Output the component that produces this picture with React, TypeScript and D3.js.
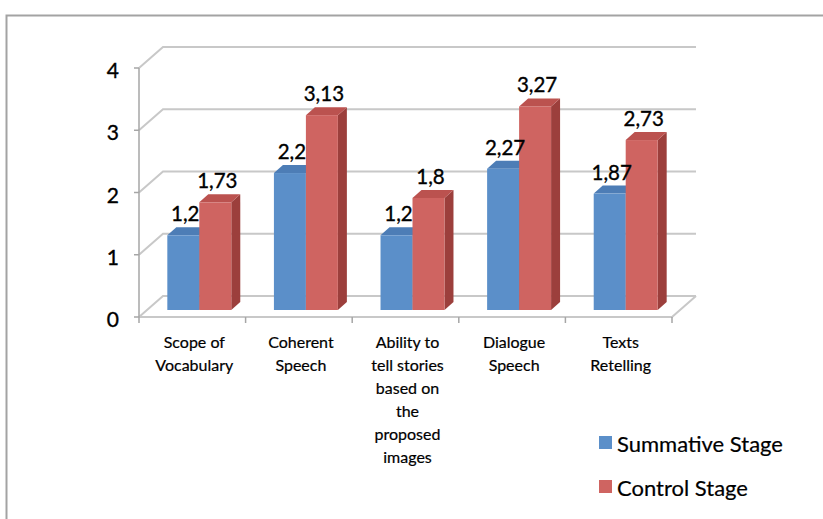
import React from 'react';
import * as d3 from 'd3';

const categories = [
  ['Scope of', 'Vocabulary'],
  ['Coherent', 'Speech'],
  ['Ability to', 'tell stories', 'based on', 'the', 'proposed', 'images'],
  ['Dialogue', 'Speech'],
  ['Texts', 'Retelling'],
];
const summative = [1.2, 2.2, 1.2, 2.27, 1.87];
const control = [1.73, 3.13, 1.8, 3.27, 2.73];
const yTicks = [0, 1, 2, 3, 4];
const seriesNames = ['Summative Stage', 'Control Stage'];

const W = 823;
const H = 519;
const FONT = 'Lato, "Open Sans", sans-serif';

// front plane of the 3d box
const left = 139, right = 672, bottom = 317, top = 68;
const depth = { dx: 24, dy: -21 };
const barShift = { dx: 7, dy: -7 };
const barDepth = { dx: 9, dy: -8 };

const colors = {
  blue: { front: '#5b8fc9', top: '#4d7db6', side: '#3f6a9c' },
  red: { front: '#cf6461', top: '#bb524f', side: '#9c3f3c' },
  grid: '#c8c8c8',
  axis: '#a6a6a6',
};

const fmt = (v: number) => String(v).replace('.', ',');

function Bar3D({ x, w, yTop, yBot, c }: { x: number; w: number; yTop: number; yBot: number; c: any }) {
  const { dx, dy } = barDepth;
  const topPts = [[x, yTop], [x + w, yTop], [x + w + dx, yTop + dy], [x + dx, yTop + dy]];
  const sidePts = [[x + w, yTop], [x + w + dx, yTop + dy], [x + w + dx, yBot + dy], [x + w, yBot]];
  return (
    <g>
      <polygon points={sidePts.map(p => p.join(',')).join(' ')} fill={c.side} />
      <polygon points={topPts.map(p => p.join(',')).join(' ')} fill={c.top} />
      <rect x={x} y={yTop} width={w} height={yBot - yTop} fill={c.front} />
    </g>
  );
}

export default function App() {
  const x = d3.scaleBand<number>().domain(categories.map((_, i) => i)).range([left, right]);
  const yFront = d3.scaleLinear().domain([0, 4]).range([bottom, top]);
  const yBar = d3.scaleLinear().domain([0, 4]).range([bottom + barShift.dy, top + barShift.dy]);
  const bw = x.bandwidth();
  const barW = bw * 0.3;
  const heavy = { stroke: '#000', strokeWidth: 0.35 };

  return (
    <div style={{ position: 'absolute', left: 0, top: 0 }}>
      <svg width={W} height={H} style={{ display: 'block', background: '#fff' }}>
        {/* outer frame */}
        <path d={`M6.5,${H} V15.5 H${W}`} fill="none" stroke="#a3a3a3" strokeWidth={2} />

        {/* gridlines on left wall and back wall */}
        {yTicks.map(v => {
          const yf = yFront(v);
          return (
            <path
              key={'g' + v}
              d={`M${left},${yf} L${left + depth.dx},${yf + depth.dy} L${right + depth.dx},${yf + depth.dy}`}
              fill="none"
              stroke={colors.grid}
              strokeWidth={2}
            />
          );
        })}
        {/* floor front edge and right edge */}
        <path
          d={`M${left},${bottom} L${right},${bottom} L${right + depth.dx},${bottom + depth.dy}`}
          fill="none"
          stroke={colors.grid}
          strokeWidth={2}
        />

        {/* value axis */}
        <line x1={left} x2={left} y1={yFront(4)} y2={bottom} stroke={colors.axis} strokeWidth={1.5} />
        {yTicks.map(v => (
          <g key={'t' + v}>
            <line x1={left - 5} x2={left} y1={yFront(v)} y2={yFront(v)} stroke={colors.axis} strokeWidth={1.5} />
            <text x={119} y={yFront(v) + 10} textAnchor="end" fontFamily={FONT} fontSize={21} fill="#000" {...heavy}>
              {v}
            </text>
          </g>
        ))}

        {/* category ticks */}
        {d3.range(categories.length + 1).map(i => {
          const xx = left + i * bw;
          return <line key={'c' + i} x1={xx} x2={xx} y1={bottom} y2={bottom + 6} stroke={colors.axis} strokeWidth={1.5} />;
        })}

        {/* bars */}
        {categories.map((_, i) => {
          const cx = (x(i) as number) + bw / 2 + barShift.dx;
          const yb = yBar(0);
          return (
            <g key={'b' + i}>
              <Bar3D x={cx - barW} w={barW} yTop={yBar(summative[i])} yBot={yb} c={colors.blue} />
              <Bar3D x={cx} w={barW} yTop={yBar(control[i])} yBot={yb} c={colors.red} />
              <text x={cx - barW / 2 + 2} y={yBar(summative[i]) - 14} textAnchor="middle" fontFamily={FONT} fontSize={20.5} fill="#000" {...heavy}>
                {fmt(summative[i])}
              </text>
              <text x={cx + barW / 2 + 2} y={yBar(control[i]) - 14} textAnchor="middle" fontFamily={FONT} fontSize={20.5} fill="#000" {...heavy}>
                {fmt(control[i])}
              </text>
            </g>
          );
        })}

        {/* category labels */}
        {categories.map((lines, i) => (
          <text key={'l' + i} textAnchor="middle" fontFamily={FONT} fontSize={16} fill="#000" stroke="#000" strokeWidth={0.2}>
            {lines.map((ln, j) => (
              <tspan key={j} x={(x(i) as number) + bw / 2 + 2} y={348 + j * 23}>
                {ln}
              </tspan>
            ))}
          </text>
        ))}

        {/* legend */}
        {seriesNames.map((name, i) => (
          <g key={'lg' + i} transform={`translate(599,${436 + i * 44})`}>
            <rect x={0} y={0} width={13} height={13} fill={i === 0 ? colors.blue.front : colors.red.front} />
            <text x={18} y={16} fontFamily={FONT} fontSize={22} fill="#000" stroke="#000" strokeWidth={0.2}>
              {name}
            </text>
          </g>
        ))}
      </svg>
    </div>
  );
}
